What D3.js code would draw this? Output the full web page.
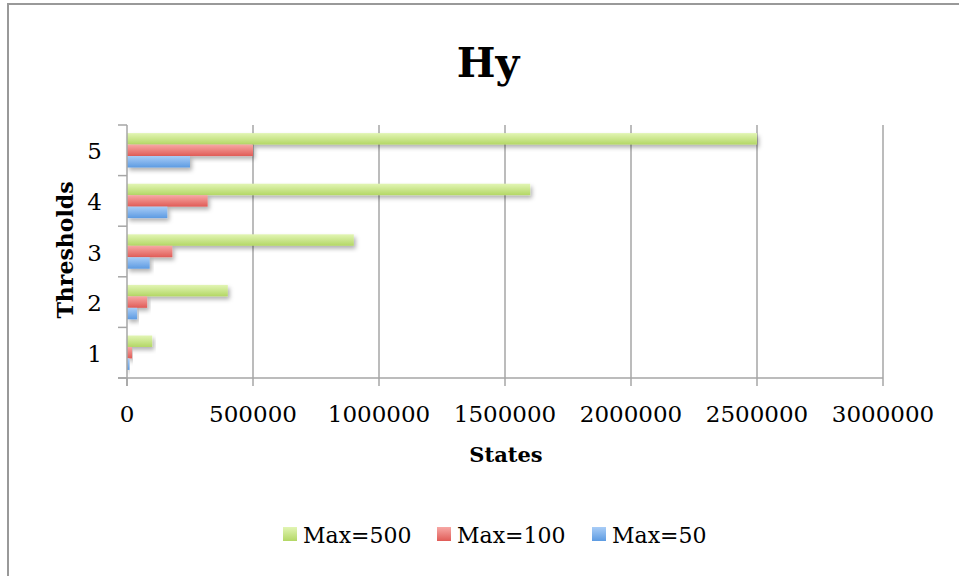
<!DOCTYPE html>
<html>
<head>
<meta charset="utf-8">
<script src="https://cdn.jsdelivr.net/npm/d3@7"></script>
<style>
  body { margin: 0; background: #fff; }
  text { font-family: "DejaVu Serif", "Liberation Serif", serif; fill: #000; }
</style>
</head>
<body>
<script>
// data
var thresholds = [1, 2, 3, 4, 5];
var seriesNames = ["Max=500", "Max=100", "Max=50"];
var max500 = [100000, 400000, 900000, 1600000, 2500000];
var max100 = [20000, 80000, 180000, 320000, 500000];
var max50 = [10000, 40000, 90000, 160000, 250000];
var xTicks = [0, 500000, 1000000, 1500000, 2000000, 2500000, 3000000];

var seriesValues = [max500, max100, max50];
var colors = [
    {top: "#e2f5b4", bottom: "#b3d765"},
    {top: "#f7a8a5", bottom: "#e05c57"},
    {top: "#a9cdf7", bottom: "#5d9be2"}
];

var width = 959, height = 576;
var plotL = 127, plotR = 883, plotT = 125, plotB = 378;

var svg = d3.select("body").append("svg")
    .attr("width", width)
    .attr("height", height);

var defs = svg.append("defs");
colors.forEach(function(c, i) {
    var g = defs.append("linearGradient")
        .attr("id", "grad" + i)
        .attr("x1", 0).attr("y1", 0).attr("x2", 0).attr("y2", 1);
    g.append("stop").attr("offset", "0%").attr("stop-color", c.top);
    g.append("stop").attr("offset", "100%").attr("stop-color", c.bottom);
});
var shadow = defs.append("filter").attr("id", "shadow")
    .attr("x", "-5%").attr("y", "-20%").attr("width", "120%").attr("height", "180%");
shadow.append("feDropShadow")
    .attr("dx", 2).attr("dy", 3).attr("stdDeviation", 2)
    .attr("flood-color", "#000").attr("flood-opacity", 0.3);

// outer frame (runs off the right and bottom edge)
svg.append("rect")
    .attr("x", 8).attr("y", 4)
    .attr("width", 970).attr("height", 600)
    .attr("fill", "none")
    .attr("stroke", "#999").attr("stroke-width", 2);

var x = d3.scaleLinear().domain([0, 3000000]).range([plotL, plotR]);
var y = d3.scaleBand().domain(thresholds).range([plotB, plotT])
    .paddingInner(0.32).paddingOuter(0.16);
var ySub = d3.scaleBand().domain([0, 1, 2]).range([0, y.bandwidth()]);

// vertical grid lines
svg.append("g").selectAll("line")
    .data(xTicks.slice(1))
    .enter().append("line")
    .attr("x1", function(d) { return x(d); })
    .attr("x2", function(d) { return x(d); })
    .attr("y1", plotT).attr("y2", plotB + 8)
    .attr("stroke", "#a6a6a6").attr("stroke-width", 1.5);

// bars
var groups = svg.append("g").selectAll("g")
    .data(thresholds)
    .enter().append("g")
    .attr("transform", function(d) { return "translate(0," + y(d) + ")"; });

groups.selectAll("rect")
    .data(function(d, i) {
        return seriesValues.map(function(vals, s) { return {s: s, v: vals[i]}; });
    })
    .enter().append("rect")
    .attr("x", x(0))
    .attr("y", function(d) { return ySub(d.s); })
    .attr("height", ySub.bandwidth())
    .attr("width", function(d) { return x(d.v) - x(0); })
    .attr("fill", function(d) { return "url(#grad" + d.s + ")"; })
    .attr("filter", "url(#shadow)");

// y axis
var yBounds = [plotB].concat(thresholds.map(function(d) { return y(d) - y.step() * y.paddingInner() / 2; }));
var yAxis = svg.append("g");
yAxis.append("line")
    .attr("x1", plotL).attr("x2", plotL).attr("y1", plotT).attr("y2", plotB + 8)
    .attr("stroke", "#a6a6a6").attr("stroke-width", 1.5);
yAxis.selectAll(".tick").data(yBounds).enter().append("line")
    .attr("x1", plotL - 9).attr("x2", plotL)
    .attr("y1", function(d) { return d; }).attr("y2", function(d) { return d; })
    .attr("stroke", "#a6a6a6").attr("stroke-width", 1.5);
yAxis.selectAll("text").data(thresholds).enter().append("text")
    .attr("x", 102)
    .attr("y", function(d) { return y(d) + y.bandwidth() / 2 + 9; })
    .attr("text-anchor", "end")
    .attr("font-size", 23)
    .text(function(d) { return d; });

// x axis
var xAxis = svg.append("g");
xAxis.append("line")
    .attr("x1", plotL - 9).attr("x2", plotR).attr("y1", plotB).attr("y2", plotB)
    .attr("stroke", "#a6a6a6").attr("stroke-width", 1.5);
xAxis.append("line")
    .attr("x1", x(0)).attr("x2", x(0)).attr("y1", plotB).attr("y2", plotB + 8)
    .attr("stroke", "#a6a6a6").attr("stroke-width", 1.5);
xAxis.selectAll("text").data(xTicks).enter().append("text")
    .attr("x", function(d) { return x(d); })
    .attr("y", 422)
    .attr("text-anchor", "middle")
    .attr("font-size", 23)
    .text(function(d) { return d; });

// titles
svg.append("text")
    .attr("x", 488).attr("y", 77)
    .attr("text-anchor", "middle")
    .attr("font-size", 41).attr("font-weight", "bold")
    .text("Hy");
svg.append("text")
    .attr("x", 506).attr("y", 462)
    .attr("text-anchor", "middle")
    .attr("font-size", 21).attr("font-weight", "bold")
    .text("States");
svg.append("text")
    .attr("transform", "translate(73,250) rotate(-90)")
    .attr("text-anchor", "middle")
    .attr("font-size", 22).attr("font-weight", "bold")
    .text("Thresholds");

// legend
var legendX = [283, 437, 592];
var legend = svg.append("g").selectAll("g")
    .data(seriesNames)
    .enter().append("g")
    .attr("transform", function(d, i) { return "translate(" + legendX[i] + ",527)"; });
legend.append("rect")
    .attr("width", 14).attr("height", 14)
    .attr("fill", function(d, i) { return "url(#grad" + i + ")"; });
legend.append("text")
    .attr("x", 20).attr("y", 16)
    .attr("font-size", 22)
    .text(function(d) { return d; });
</script>
</body>
</html>
